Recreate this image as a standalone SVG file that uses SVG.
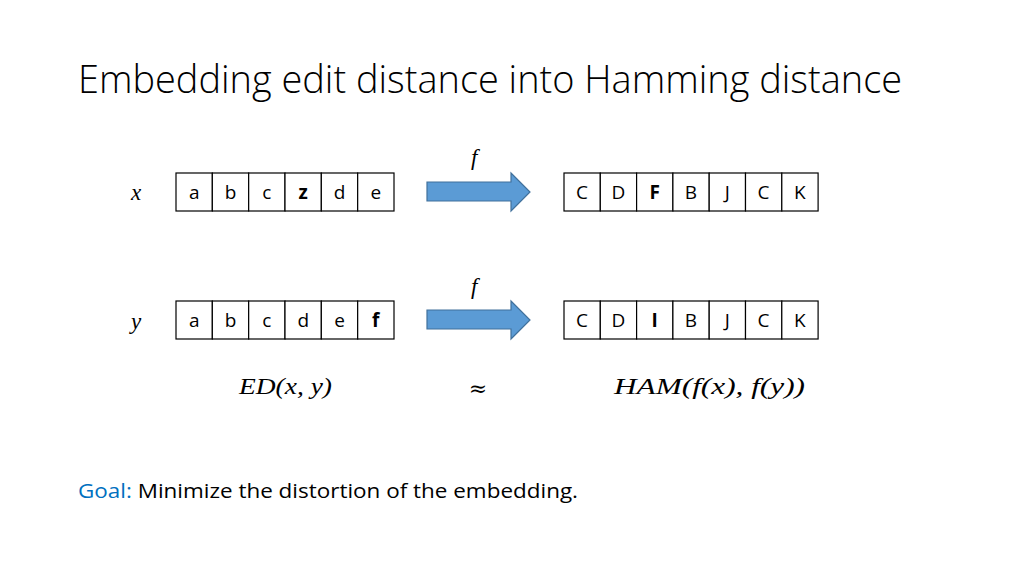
<svg xmlns="http://www.w3.org/2000/svg" width="1024" height="576" viewBox="0 0 1024 576">
<style>
.cell{fill:#fff;stroke:#000;stroke-width:1.2}
.ct{font-family:"Open Sans","Liberation Sans",sans-serif;font-size:19px;fill:#000;text-anchor:middle}
.b{font-weight:bold}
.m{font-family:"Liberation Serif",serif;font-style:italic;font-size:23px;fill:#000}
.arr{fill:#5B9BD5;stroke:#41719C;stroke-width:1.2}
</style>
<rect width="1024" height="576" fill="#fff"/>
<text x="78" y="93" font-family="'Open Sans','Liberation Sans',sans-serif" font-weight="300" font-size="38" textLength="824" lengthAdjust="spacingAndGlyphs" fill="#000">Embedding edit distance into Hamming distance</text>
<g id="label-x"><text class="m" x="131" y="200">x</text></g>
<g id="label-y"><text class="m" x="131" y="329">y</text></g>
<g id="string-x">
<rect class="cell" x="176" y="173" width="36.33" height="38"/><text class="ct" x="194.2" y="199">a</text>
<rect class="cell" x="212.33" y="173" width="36.33" height="38"/><text class="ct" x="230.5" y="199">b</text>
<rect class="cell" x="248.67" y="173" width="36.33" height="38"/><text class="ct" x="266.8" y="199">c</text>
<rect class="cell" x="285" y="173" width="36.33" height="38"/><text class="ct b" x="303.2" y="199">z</text>
<rect class="cell" x="321.33" y="173" width="36.33" height="38"/><text class="ct" x="339.5" y="199">d</text>
<rect class="cell" x="357.67" y="173" width="36.33" height="38"/><text class="ct" x="375.8" y="199">e</text>
</g>
<g id="string-fx">
<rect class="cell" x="564" y="173" width="36.3" height="38"/><text class="ct" x="582.1" y="199">C</text>
<rect class="cell" x="600.3" y="173" width="36.3" height="38"/><text class="ct" x="618.4" y="199">D</text>
<rect class="cell" x="636.6" y="173" width="36.3" height="38"/><text class="ct b" x="654.7" y="199">F</text>
<rect class="cell" x="672.9" y="173" width="36.3" height="38"/><text class="ct" x="691" y="199">B</text>
<rect class="cell" x="709.2" y="173" width="36.3" height="38"/><text class="ct" x="727.3" y="199">J</text>
<rect class="cell" x="745.5" y="173" width="36.3" height="38"/><text class="ct" x="763.6" y="199">C</text>
<rect class="cell" x="781.8" y="173" width="36.3" height="38"/><text class="ct" x="799.9" y="199">K</text>
</g>
<g id="string-y">
<rect class="cell" x="176" y="301" width="36.33" height="38"/><text class="ct" x="194.2" y="327">a</text>
<rect class="cell" x="212.33" y="301" width="36.33" height="38"/><text class="ct" x="230.5" y="327">b</text>
<rect class="cell" x="248.67" y="301" width="36.33" height="38"/><text class="ct" x="266.8" y="327">c</text>
<rect class="cell" x="285" y="301" width="36.33" height="38"/><text class="ct" x="303.2" y="327">d</text>
<rect class="cell" x="321.33" y="301" width="36.33" height="38"/><text class="ct" x="339.5" y="327">e</text>
<rect class="cell" x="357.67" y="301" width="36.33" height="38"/><text class="ct b" x="375.8" y="327">f</text>
</g>
<g id="string-fy">
<rect class="cell" x="564" y="301" width="36.3" height="38"/><text class="ct" x="582.1" y="327">C</text>
<rect class="cell" x="600.3" y="301" width="36.3" height="38"/><text class="ct" x="618.4" y="327">D</text>
<rect class="cell" x="636.6" y="301" width="36.3" height="38"/><text class="ct b" x="654.7" y="327">I</text>
<rect class="cell" x="672.9" y="301" width="36.3" height="38"/><text class="ct" x="691" y="327">B</text>
<rect class="cell" x="709.2" y="301" width="36.3" height="38"/><text class="ct" x="727.3" y="327">J</text>
<rect class="cell" x="745.5" y="301" width="36.3" height="38"/><text class="ct" x="763.6" y="327">C</text>
<rect class="cell" x="781.8" y="301" width="36.3" height="38"/><text class="ct" x="799.9" y="327">K</text>
</g>
<g id="connectors">
<path class="arr" d="M427,182 L511,182 L511,173 L530,192 L511,211 L511,201 L427,201 Z"/>
<text class="m" x="471" y="165">f</text>
<path class="arr" d="M427,310 L511,310 L511,301 L530,320 L511,339 L511,329 L427,329 Z"/>
<text class="m" x="471" y="294">f</text>
</g>
<g id="formula">
<text class="m" x="239" y="394" font-size="24" textLength="93" lengthAdjust="spacingAndGlyphs">ED(x, y)</text>
<text x="478" y="396" font-family="'DejaVu Serif',serif" font-size="22" text-anchor="middle">≈</text>
<text class="m" x="614" y="394" font-size="24" textLength="191" lengthAdjust="spacingAndGlyphs">HAM(f(x), f(y))</text>
</g>
<text x="78" y="498" font-family="'Open Sans','Liberation Sans',sans-serif" font-size="20" textLength="500" lengthAdjust="spacingAndGlyphs"><tspan fill="#0070C0">Goal:</tspan><tspan fill="#000"> Minimize the distortion of the embedding.</tspan></text>
</svg>
